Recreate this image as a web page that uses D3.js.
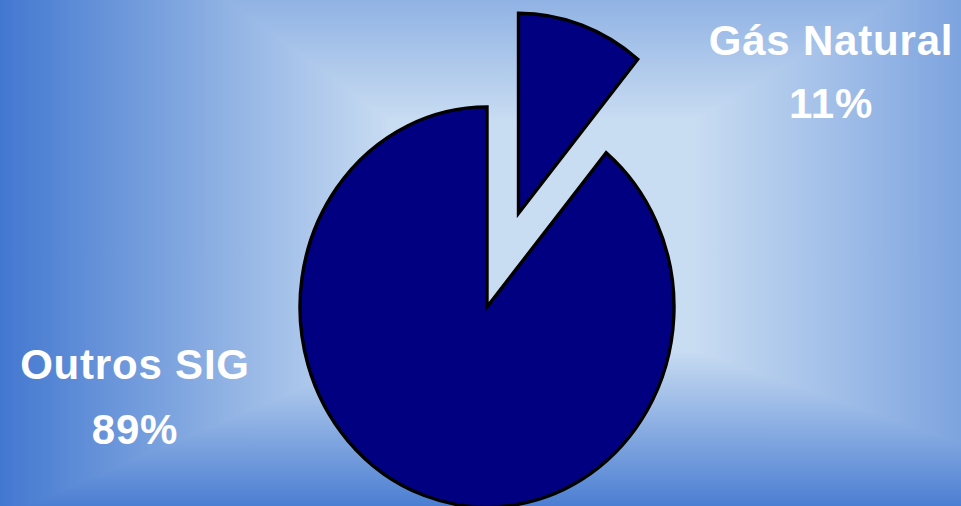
<!DOCTYPE html>
<html>
<head>
<meta charset="utf-8">
<script src="https://cdn.jsdelivr.net/npm/d3@7"></script>
<style>
  html, body { margin: 0; padding: 0; overflow: hidden; }
  svg { display: block; }
  .lbl { font-family: "Liberation Sans", Arial, sans-serif; font-weight: bold; fill: #fff; }
</style>
</head>
<body>
<svg id="chart" width="961" height="506"></svg>
<script>
"use strict";

const W = 961, H = 506;

// data
const categories = ["Gás Natural", "Outros SIG"];
const shares = [11, 89];
const pctLabels = ["11%", "89%"];
const exploded = [true, false];

const PIE_CX = 487, PIE_CY = 307;
const PIE_R = 187;
const Y_STRETCH = 1.07;
const EXPLODE = 93;

const svg = d3.select("#chart");
const defs = svg.append("defs");

// rectangular path gradient (outer box -> light focus box), like the slide background
const LIGHT = "#c8dcf2", DARK = "#4378d0";
const outer = { x0: 0, y0: -166, x1: 1170, y1: 517 };
const inner = { x0: 390, y0: 120, x1: 695, y1: 350 };

function lin(id, ax, ay, bx, by) {
  const g = defs.append("linearGradient")
    .attr("id", id)
    .attr("gradientUnits", "userSpaceOnUse")
    .attr("x1", ax).attr("y1", ay).attr("x2", bx).attr("y2", by);
  g.append("stop").attr("offset", 0).attr("stop-color", DARK);
  g.append("stop").attr("offset", 1).attr("stop-color", LIGHT);
}
lin("gL", outer.x0, 0, inner.x0, 0);
lin("gR", outer.x1, 0, inner.x1, 0);
lin("gT", 0, outer.y0, 0, inner.y0);
lin("gB", 0, outer.y1, 0, inner.y1);

const pieces = [
  { id: "gL", pts: [[outer.x0, outer.y0], [inner.x0, inner.y0], [inner.x0, inner.y1], [outer.x0, outer.y1]] },
  { id: "gR", pts: [[outer.x1, outer.y0], [inner.x1, inner.y0], [inner.x1, inner.y1], [outer.x1, outer.y1]] },
  { id: "gT", pts: [[outer.x0, outer.y0], [outer.x1, outer.y0], [inner.x1, inner.y0], [inner.x0, inner.y0]] },
  { id: "gB", pts: [[outer.x0, outer.y1], [outer.x1, outer.y1], [inner.x1, inner.y1], [inner.x0, inner.y1]] }
];

const bgG = svg.append("g");
bgG.append("rect")
  .attr("width", W).attr("height", H)
  .attr("fill", "#9ab8e6");
bgG.append("rect")
  .attr("x", inner.x0 - 1).attr("y", inner.y0 - 1)
  .attr("width", inner.x1 - inner.x0 + 2).attr("height", inner.y1 - inner.y0 + 2)
  .attr("fill", LIGHT);
bgG.selectAll("polygon")
  .data(pieces)
  .enter()
  .append("polygon")
  .attr("points", (d) => d.pts.map((p) => p.join(",")).join(" "))
  .attr("fill", (d) => `url(#${d.id})`)
  .attr("stroke", (d) => `url(#${d.id})`)
  .attr("stroke-width", 1.5)
  .attr("stroke-linejoin", "bevel");

// pie
const pie = d3.pie().sort(null).value((d) => d.value);
const arcs = pie(categories.map((name, i) => ({ name, value: shares[i], out: exploded[i] })));
const arcGen = d3.arc().innerRadius(0).outerRadius(PIE_R);

const pieG = svg.append("g")
  .attr("transform", `translate(${PIE_CX},${PIE_CY}) scale(1,${Y_STRETCH})`);

pieG.selectAll("path")
  .data(arcs)
  .enter()
  .append("path")
  .attr("d", arcGen)
  .attr("transform", (d) => {
    if (!d.data.out) return null;
    const mid = (d.startAngle + d.endAngle) / 2;
    return `translate(${Math.sin(mid) * EXPLODE},${-Math.cos(mid) * EXPLODE})`;
  })
  .attr("fill", "#000080")
  .attr("stroke", "#000")
  .attr("stroke-width", 3.4)
  .attr("vector-effect", "non-scaling-stroke");

// labels
const labelPos = [
  { x: 831, y1: 55, y2: 118 },
  { x: 135, y1: 379, y2: 444 }
];
const lblG = svg.append("g");
categories.forEach((name, i) => {
  const p = labelPos[i];
  lblG.append("text")
    .attr("class", "lbl")
    .attr("x", p.x).attr("y", p.y1)
    .attr("text-anchor", "middle")
    .attr("font-size", 42)
    .attr("letter-spacing", 0.8)
    .text(name);
  lblG.append("text")
    .attr("class", "lbl")
    .attr("x", p.x).attr("y", p.y2)
    .attr("text-anchor", "middle")
    .attr("font-size", 42)
    .attr("letter-spacing", 0.8)
    .text(pctLabels[i]);
});
</script>
</body>
</html>
